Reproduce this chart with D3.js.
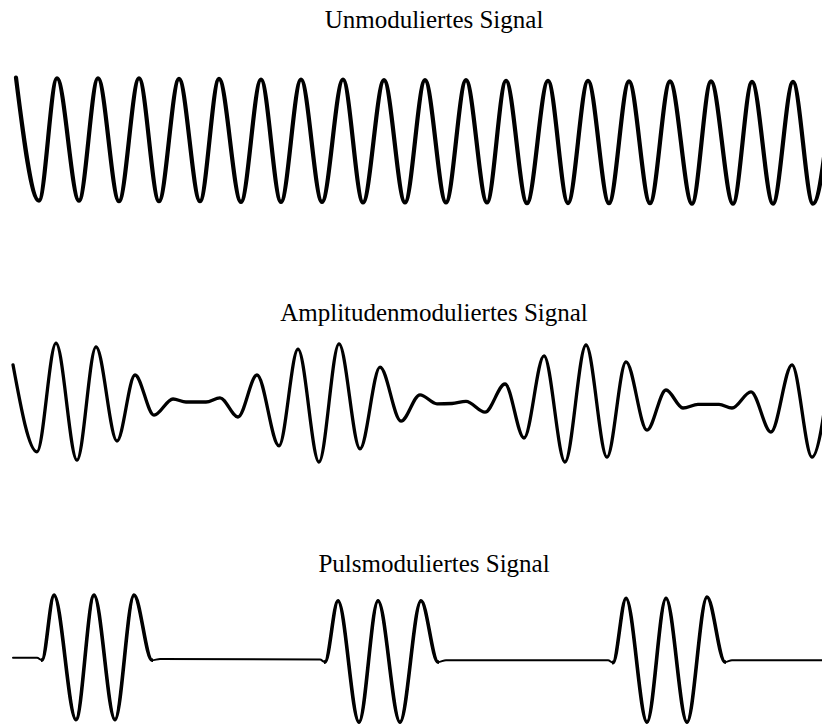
<!DOCTYPE html>
<html>
<head>
<meta charset="utf-8">
<script src="https://cdn.jsdelivr.net/npm/d3@7"></script>
<style>
  html, body { margin: 0; padding: 0; background: #fff; }
  svg { display: block; }
  text { font-family: "Liberation Serif", "Times New Roman", serif; fill: #000; }
</style>
</head>
<body>
<script>
// ---- Data ----
// Panel titles
const titles = ["Unmoduliertes Signal", "Amplitudenmoduliertes Signal", "Pulsmoduliertes Signal"];

// Unmodulated carrier: time of each extremum and its amplitude
const carrierT = [16, 39, 57, 79, 98, 119, 139, 159, 179, 200, 219, 241, 261, 281, 301, 322, 343, 363, 384, 405, 425, 446, 466, 487, 506, 527, 548, 568, 588, 609, 629, 650, 670, 692, 711, 733, 752, 773, 793, 813, 833];
const carrierV = [1.03, -0.97, 1.02, -0.97, 1.02, -0.98, 1.02, -0.98, 1.01, -0.98, 1.01, -0.99, 1.0, -0.99, 1.0, -0.99, 1.0, -1.0, 0.99, -1.0, 0.99, -1.0, 0.99, -1.0, 0.98, -1.01, 0.98, -1.01, 0.98, -1.01, 0.97, -1.01, 0.97, -1.02, 0.97, -1.02, 0.96, -1.02, 0.96, -1.02, 0.96];

// Amplitude-modulated signal
const amT = [13, 37, 56, 77, 96, 117, 135, 154, 173, 186, 206, 220, 238, 257, 279, 298, 319, 339, 360, 380, 401, 420, 437, 452, 466, 485, 505, 524, 544, 565, 586, 607, 626, 647, 666, 683, 698, 719, 732, 751, 771, 792, 812, 833];
const amV = [0.62, -0.83, 0.98, -0.97, 0.92, -0.65, 0.45, -0.22, 0.05, 0.0, 0.0, 0.07, -0.25, 0.45, -0.73, 0.88, -1.0, 0.97, -0.78, 0.58, -0.32, 0.12, -0.03, -0.025, 0.01, -0.17, 0.3, -0.6, 0.77, -1.0, 0.95, -0.92, 0.67, -0.47, 0.2, -0.1, -0.04, -0.04, -0.1, 0.17, -0.5, 0.62, -0.92, 0.95];

// Pulse-modulated signal
const pmT = [13, 37, 42, 54, 76, 94, 115, 134, 152, 160, 320, 325, 338, 359, 378, 400, 421, 438, 446, 608, 613, 626, 647, 666, 687, 707, 725, 732, 822];
const pmV = [0.02, 0.02, -0.02, 1.03, -0.98, 1.03, -0.98, 1.03, -0.02, 0.0, -0.01, -0.05, 0.94, -1.02, 0.94, -1.02, 0.94, -0.05, -0.02, -0.02, -0.06, 0.98, -1.02, 0.98, -1.02, 1.0, -0.05, -0.02, -0.02];
// Time spans of the three pulses
const pulseStart = [41, 324, 612];
const pulseEnd = [153, 439, 726];

// ---- Layout ----
const W = 822, H = 726;
const svg = d3.select("body").append("svg").attr("width", W).attr("height", H);
const defs = svg.append("defs");

const x = d3.scaleLinear().domain([0, 822]).range([0, W]);

const panels = [
  { title: titles[0], T: carrierT, V: carrierV, yTop: 79.5, yBot: 202.5, titleY: 28, width: 4.2 },
  { title: titles[1], T: amT, V: amV, yTop: 342, yBot: 462, titleY: 321, width: 3.3 },
  { title: titles[2], T: pmT, V: pmV, yTop: 597, yBot: 721, titleY: 572, width: 2 }
];

// clip for the thicker pulse bursts
const clip = defs.append("clipPath").attr("id", "pulseClip");
pulseStart.forEach((s, j) => {
  clip.append("rect")
    .attr("x", x(s))
    .attr("width", x(pulseEnd[j]) - x(s))
    .attr("y", 560)
    .attr("height", 180);
});

panels.forEach((p, i) => {
  const y = d3.scaleLinear().domain([-1, 1]).range([p.yBot, p.yTop]);
  const pts = p.T.map((t, k) => ({ t, v: p.V[k] }));
  const line = d3.line().x(d => x(d.t)).y(d => y(d.v)).curve(d3.curveMonotoneX);

  svg.append("text")
    .attr("x", 434)
    .attr("y", p.titleY)
    .attr("text-anchor", "middle")
    .attr("font-size", 25)
    .text(p.title);

  svg.append("path")
    .datum(pts)
    .attr("d", line)
    .attr("fill", "none")
    .attr("stroke", "#000")
    .attr("stroke-width", p.width)
    .attr("stroke-linejoin", "round")
    .attr("stroke-linecap", "round");

  if (i === 2) {
    svg.append("path")
      .datum(pts)
      .attr("d", line)
      .attr("clip-path", "url(#pulseClip)")
      .attr("fill", "none")
      .attr("stroke", "#000")
      .attr("stroke-width", 3.6)
      .attr("stroke-linejoin", "round")
      .attr("stroke-linecap", "round");
  }
});
</script>
</body>
</html>
